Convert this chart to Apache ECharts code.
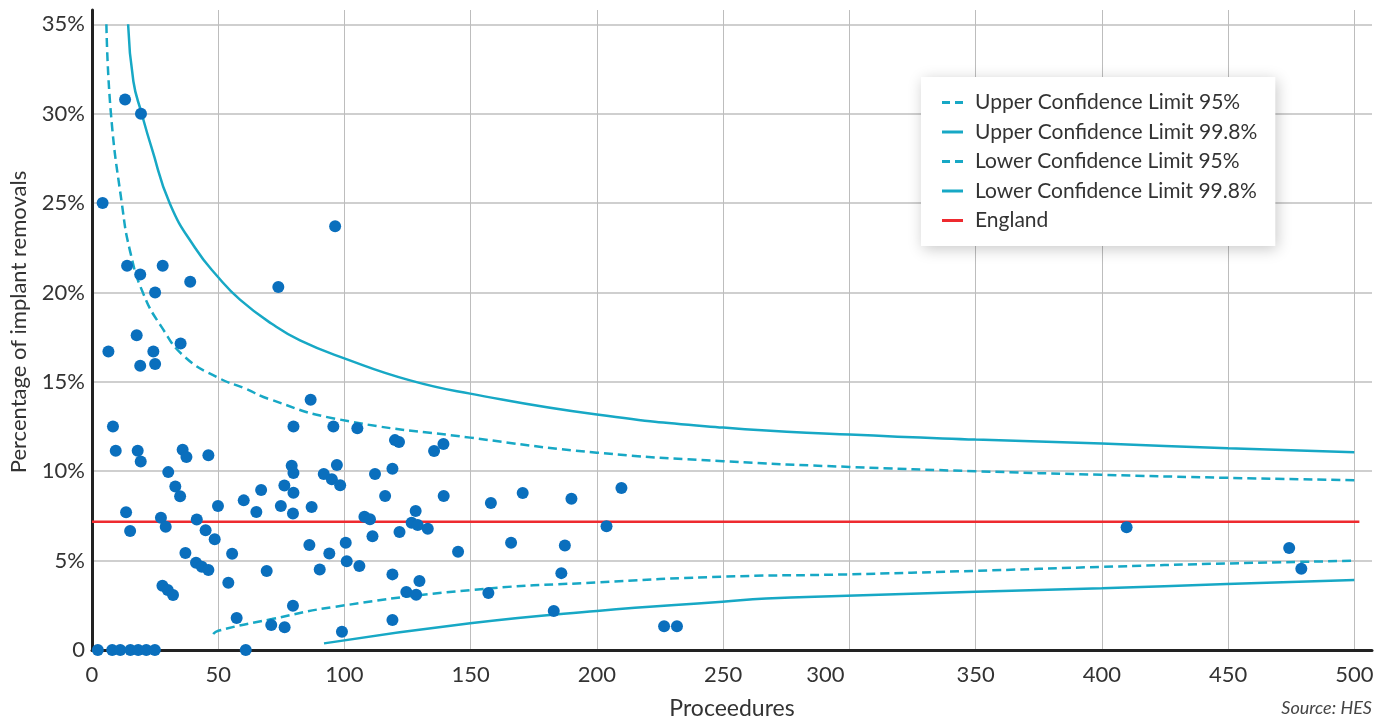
<!DOCTYPE html>
<html>
<head>
<meta charset="utf-8">
<script src="https://cdn.jsdelivr.net/npm/echarts@6/dist/echarts.min.js"></script>
<style>
html,body{margin:0;padding:0;background:#fff;}
#chart{width:1391px;height:720px;}
</style>
</head>
<body>
<div id="chart"></div>
<script>
// ---- data ----
const xTicks = [0, 50, 100, 150, 200, 250, 300, 350, 400, 450, 500];
const yTicks = [0, 5, 10, 15, 20, 25, 30, 35];

const providers = [
  [2.3,0],[8.0,0],[11.2,0],[15.2,0],[18.3,0],[21.5,0],[24.9,0],[60.9,0],
  [4.2,25.0],[13.1,30.8],[19.4,30.0],[13.9,21.5],[19.1,21.0],[28.0,21.5],[38.9,20.6],[25.0,20.0],[73.8,20.3],[96.3,23.7],
  [17.7,17.6],[6.5,16.7],[24.3,16.7],[19.1,15.9],[25.0,16.0],[35.1,17.15],[86.6,14.0],
  [8.3,12.5],[79.8,12.5],[95.6,12.5],[9.4,11.15],[18.1,11.15],[19.3,10.55],[35.9,11.2],[37.4,10.8],[46.1,10.9],
  [30.2,9.95],[33.0,9.15],[79.1,10.3],[79.8,9.9],[91.8,9.85],[95.0,9.55],[97.0,10.35],[76.2,9.2],[67.0,8.95],[79.8,8.8],
  [34.9,8.6],[13.5,7.7],[15.1,6.65],[27.3,7.4],[29.2,6.9],[41.5,7.3],[45.0,6.7],[48.6,6.2],[49.9,8.05],[60.1,8.37],
  [65.1,7.72],[74.8,8.05],[79.6,7.64],[87.0,8.0],
  [37.0,5.42],[41.2,4.88],[43.5,4.66],[46.1,4.47],[55.5,5.38],[86.1,5.87],[94.0,5.4],[90.2,4.5],[69.2,4.42],[54.0,3.76],
  [27.9,3.6],[30.0,3.35],[32.1,3.07],[79.6,2.48],[57.3,1.79],[71.0,1.4],[76.3,1.27],
  [105.1,12.4],[120.0,11.74],[121.6,11.63],[135.5,11.13],[139.2,11.52],[112.1,9.84],[119.0,10.14],[98.3,9.21],
  [116.1,8.61],[139.3,8.61],[158.0,8.22],[170.6,8.78],[189.9,8.46],[209.7,9.06],
  [107.9,7.45],[110.1,7.31],[128.2,7.77],[126.6,7.12],[129.0,6.99],[133.0,6.78],[111.1,6.36],[121.8,6.6],[203.8,6.92],
  [100.5,6.0],[100.9,4.96],[105.9,4.7],[145.0,5.5],[166.0,6.0],[187.3,5.85],
  [119.0,4.23],[129.7,3.86],[124.5,3.24],[128.4,3.09],[157.0,3.19],[185.9,4.3],[182.9,2.18],[119.0,1.68],[99.0,1.02],
  [226.6,1.33],[231.7,1.33],
  [409.8,6.86],[474.2,5.7],[479.0,4.55]
];

const upper998X = [14.3,16.4,19.7,23.6,30.9,40.8,50,58.6,71.2,82.4,100.2,126,149.8,200,250,300,350,400,450,500];
const upper998Y = [35,31.8,30.0,28.1,24.95,22.5,20.85,19.6,18.25,17.32,16.3,15.08,14.34,13.17,12.44,12.05,11.77,11.55,11.28,11.06];

const upper95X = [5.7,7.5,11.8,15.1,20.3,27.6,36.8,50,60.6,69.9,96.3,149.8,200,250,300,350,400,450,500];
const upper95Y = [35,30,25,22.3,19.94,18.06,16.39,15.23,14.63,14.05,12.94,11.88,11.04,10.56,10.24,10.0,9.8,9.63,9.5];

const lower95X = [48,50,71.2,96.3,149.8,200,249.7,299,350,400,449.5,500];
const lower95Y = [0.89,1.08,1.73,2.42,3.35,3.78,4.1,4.23,4.43,4.65,4.84,4.99];

const lower998X = [91.9,149.8,200,249.7,267,299,350,400,449.5,500];
const lower998Y = [0.37,1.49,2.18,2.7,2.88,3.03,3.26,3.45,3.69,3.91];

const englandX = [0, 502];
const englandY = [7.17, 7.17];

const seriesNames = ['Upper Confidence Limit 95%','Upper Confidence Limit 99.8%','Lower Confidence Limit 95%','Lower Confidence Limit 99.8%','England'];

// ---- build ----
const zip = (xs, ys) => xs.map((x, i) => [x, ys[i]]);
const CYAN = '#17a8c5';
const RED = '#ee2a2f';
const FONT = 'Lato';
const DASH_ICON = 'path://M0,0h8v3h-8zM13,0h8v3h-8z';
const SOLID_ICON = 'path://M0,0h21v3h-21z';

const lineSeries = (name, xs, ys, dashed, color) => ({
  name, type: 'line', data: zip(xs, ys), symbol: 'none', smooth: 0.5,
  lineStyle: { color: color || CYAN, width: 2.5, type: dashed ? [9, 5] : 'solid' },
  itemStyle: { color: color || CYAN },
  silent: true, z: 3
});

const chart = echarts.init(document.getElementById('chart'), null, { renderer: 'canvas' });
chart.setOption({
  animation: false,
  textStyle: { fontFamily: FONT },
  grid: { left: 92, right: 19, top: 10, bottom: 70, containLabel: false, outerBoundsMode: 'none' },
  title: {
    text: 'Source: HES', right: 19, top: 699, padding: 0,
    textStyle: { fontFamily: FONT, fontSize: 18, fontStyle: 'italic', fontWeight: 'normal', color: '#444' }
  },
  legend: {
    data: [
      { name: seriesNames[0], icon: DASH_ICON },
      { name: seriesNames[1], icon: SOLID_ICON },
      { name: seriesNames[2], icon: DASH_ICON },
      { name: seriesNames[3], icon: SOLID_ICON },
      { name: seriesNames[4], icon: SOLID_ICON }
    ],
    orient: 'vertical', left: 921, top: 77,
    backgroundColor: '#fff', shadowBlur: 14, shadowColor: 'rgba(0,0,0,0.22)', shadowOffsetX: 2, shadowOffsetY: 3,
    padding: [15, 18, 15, 21], itemGap: 8.5, itemWidth: 21, itemHeight: 3,
    textStyle: { fontFamily: FONT, fontSize: 21, color: '#333', padding: [0, 0, 0, 7] }
  },
  xAxis: {
    type: 'value', min: 0, max: 507, interval: 50,
    name: 'Proceedures', nameLocation: 'middle', nameGap: 47,
    nameTextStyle: { fontFamily: FONT, fontSize: 23, color: '#333' },
    axisLine: { show: true, onZero: false, lineStyle: { color: '#222', width: 3 } },
    axisTick: { show: false },
    axisLabel: {
      showMaxLabel: false, margin: 14, fontFamily: FONT, fontSize: 22, color: '#333',
      formatter: v => v === 300 ? '{s|300}' : String(v),
      rich: { s: { padding: [0, 48, 0, 0], fontFamily: FONT, fontSize: 22, color: '#333' } }
    },
    splitLine: { show: true, showMaxLine: false, lineStyle: { color: '#bdbdbd', width: 1 } }
  },
  yAxis: {
    type: 'value', min: 0, max: 35.8, interval: 5,
    name: 'Percentage of implant removals', nameLocation: 'middle', nameGap: 62,
    nameTextStyle: { fontFamily: FONT, fontSize: 22, color: '#333', padding: [0, 0, 0, 16] },
    axisLine: { show: true, lineStyle: { color: '#222', width: 3 } },
    axisTick: { show: false },
    axisLabel: {
      showMaxLabel: false, margin: 7, fontFamily: FONT, fontSize: 22, color: '#333',
      formatter: v => v === 0 ? '0' : v + '%'
    },
    splitLine: { show: true, showMaxLine: false, lineStyle: { color: '#cfcfcf', width: 2 } }
  },
  series: [
    lineSeries(seriesNames[0], upper95X, upper95Y, true),
    lineSeries(seriesNames[1], upper998X, upper998Y, false),
    lineSeries(seriesNames[2], lower95X, lower95Y, true),
    lineSeries(seriesNames[3], lower998X, lower998Y, false),
    {
      name: seriesNames[4], type: 'line', data: zip(englandX, englandY), symbol: 'none',
      lineStyle: { color: RED, width: 2.5 }, itemStyle: { color: RED }, silent: true, z: 4
    },
    {
      name: 'Providers', type: 'scatter', data: providers, symbolSize: 12,
      itemStyle: { color: '#0a6fbd', opacity: 1 }, z: 5
    }
  ]
});
</script>
</body>
</html>
